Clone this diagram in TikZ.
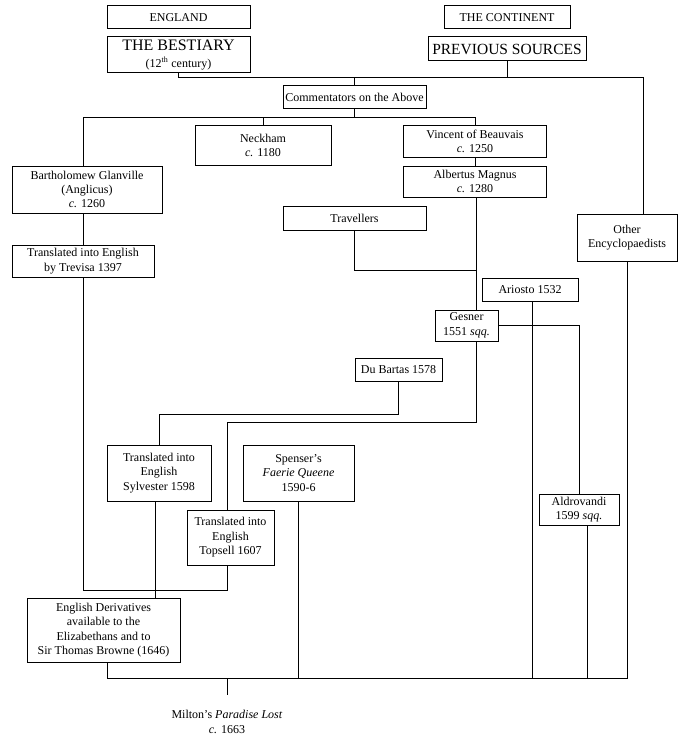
\documentclass[tikz,border=0pt]{standalone}
\usepackage{fontspec}
\setmainfont{Liberation Serif}
\begin{document}
\begin{tikzpicture}[x=1pt,y=-1pt,
  bx/.style={draw, line width=1pt, align=center, inner sep=0pt, font=\fontsize{12}{14.4}\selectfont},
  ln/.style={line width=1pt},
  lbl/.style={align=center, inner sep=0pt, font=\fontsize{12}{14.4}\selectfont}]
\useasboundingbox (0,0) rectangle (686,741);
% boxes
\node[bx, minimum width=143pt, minimum height=23pt] (england) at (178.5,17.5) {ENGLAND};
\node[bx, minimum width=143pt, minimum height=36pt] (bestiary) at (178.5,55) {{\fontsize{16}{16}\selectfont THE BESTIARY}\\[2pt](12\textsuperscript{th} century)};
\node[bx, minimum width=126pt, minimum height=23pt] (continent) at (507,17.5) {THE CONTINENT};
\node[bx, minimum width=158pt, minimum height=24pt] (previous) at (507,49) {\fontsize{15.5}{16}\selectfont PREVIOUS SOURCES};
\node[bx, minimum width=143pt, minimum height=23pt] (comment) at (354.5,97.5) {Commentators on the Above};
\node[bx, minimum width=136pt, minimum height=39pt] (neckham) at (263,145.5) {Neckham\\\textit{c.} 1180};
\node[bx, minimum width=143pt, minimum height=31pt] (vincent) at (475,141.5) {Vincent of Beauvais\\\textit{c.} 1250};
\node[bx, minimum width=143pt, minimum height=31pt] (albertus) at (475,181.5) {Albertus Magnus\\\textit{c.} 1280};
\node[bx, minimum width=150pt, minimum height=47pt] (barth) at (87,189.5) {Bartholomew Glanville\\(Anglicus)\\\textit{c.} 1260};
\node[bx, minimum width=142pt, minimum height=32pt] (trevisa) at (83,261) {Translated into English\\by Trevisa 1397};
\node[bx, minimum width=143pt, minimum height=24pt] (travellers) at (354.5,218) {Travellers};
\node[bx, minimum width=100pt, minimum height=47pt] (other) at (627,237.5) {Other\\Encyclopaedists};
\node[bx, minimum width=96pt, minimum height=23pt] (ariosto) at (530,289.5) {Ariosto 1532};
\node[bx, minimum width=63pt, minimum height=31pt] (gesner) at (466.5,325.5) {Gesner\\1551 \textit{sqq.}};
\node[bx, minimum width=87pt, minimum height=23pt] (dubartas) at (398.5,369.5) {Du Bartas 1578};
\node[bx, minimum width=104pt, minimum height=56pt] (sylvester) at (159,473) {Translated into\\English\\Sylvester 1598};
\node[bx, minimum width=111pt, minimum height=56pt] (spenser) at (298.5,473) {Spenser's\\\textit{Faerie Queene}\\1590-6};
\node[bx, minimum width=87pt, minimum height=55pt] (topsell) at (230.5,537.5) {Translated into\\English\\Topsell 1607};
\node[bx, minimum width=80pt, minimum height=31pt] (aldrovandi) at (579,509.5) {Aldrovandi\\1599 \textit{sqq.}};
\node[bx, minimum width=153pt, minimum height=64pt] (derivatives) at (103.5,630) {English Derivatives\\available to the\\Elizabethans and to\\Sir Thomas Browne (1646)};
\node[lbl] (milton) at (227,722) {Milton's \textit{Paradise Lost}\\\textit{c.} 1663};
% junction coordinates
\coordinate (j1) at (643,78);
\coordinate (j2) at (83,118);
\coordinate (j4) at (476,270);
\coordinate (j5) at (227,422);
\coordinate (j6) at (159,414);
\coordinate (cT) at (227,590);
\coordinate (jb) at (107,678);
\coordinate (cAr) at (532,0);
\coordinate (cSy) at (155,0);
\coordinate (cAl) at (587,0);
% connectors
\draw[ln] (bestiary.south) |- (j1) -- (j1 |- other.north);
\draw[ln] (previous.south) -- (previous.south |- j1);
\draw[ln] (comment.north) -- (comment.north |- j1);
\draw[ln] (comment.south) -- (comment.south |- j2);
\draw[ln] (j2 |- barth.north) -- (j2) -- (vincent.north |- j2) -- (vincent.north);
\draw[ln] (neckham.north) -- (neckham.north |- j2);
\draw[ln] (vincent.south) -- (albertus.north);
\draw[ln] (j2 |- barth.south) -- (j2 |- trevisa.north);
\draw[ln] (j2 |- trevisa.south) |- (cT) -- (cT |- topsell.south);
\draw[ln] (j4 |- albertus.south) -- (j4 |- gesner.north);
\draw[ln] (travellers.south) |- (j4);
\draw[ln] (j4 |- gesner.south) |- (j5) -- (j5 |- topsell.north);
\draw[ln] (gesner.east) -| (aldrovandi.north);
\draw[ln] (cAr |- ariosto.south) -- (cAr |- jb);
\draw[ln] (dubartas.south) |- (j6) -- (sylvester.north);
\draw[ln] (cSy |- sylvester.south) -- (cSy |- derivatives.north);
\draw[ln] (spenser.south) -- (spenser.south |- jb);
\draw[ln] (cAl |- aldrovandi.south) -- (cAl |- jb);
\draw[ln] (jb |- derivatives.south) -- (jb) -- (other.south |- jb) -- (other.south);
\draw[ln, shorten >=15pt] (cT |- jb) -- (milton.north);
\end{tikzpicture}
\end{document}
